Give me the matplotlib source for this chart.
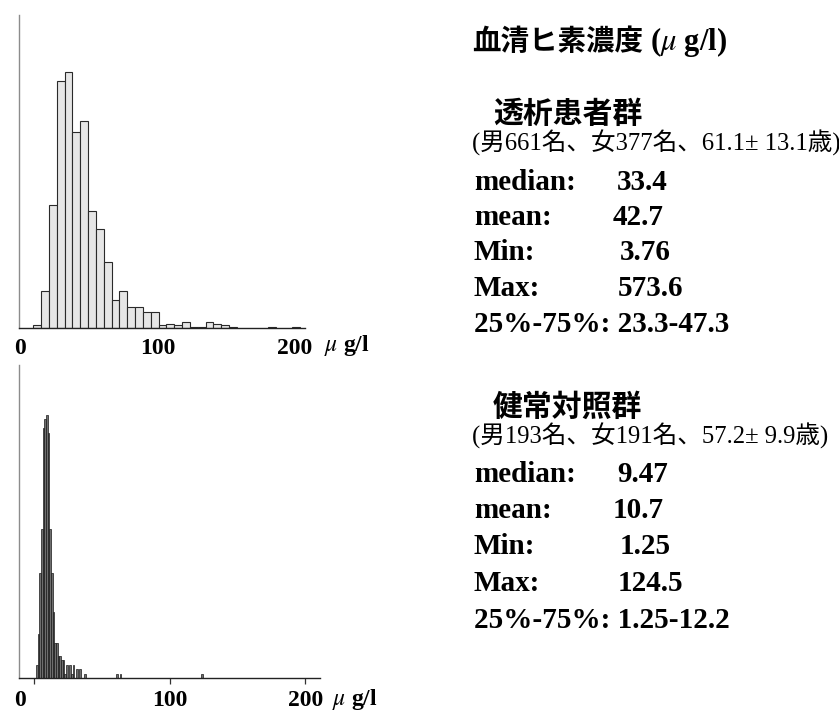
import numpy as np
import matplotlib
matplotlib.use("Agg")
import matplotlib.pyplot as plt
import matplotlib.transforms as mtransforms

plt.rcParams["mathtext.fontset"] = "stix"

# ---- histogram data: 100 equal-width bins between each group's min and max ----
dialysis_min = 3.76
dialysis_max = 573.6
dialysis_bin_index = [1, 2, 3, 4, 5, 6, 7, 8, 9, 10, 11, 12, 13, 14, 15, 16, 17,
                      18, 19, 20, 21, 22, 23, 24, 25, 26, 31, 34, 99]
dialysis_counts = [2, 25, 82, 165, 171, 131, 138, 78, 66, 44, 19, 25, 14, 14, 11, 11, 2,
                   3, 2, 4, 1, 1, 4, 3, 2, 1, 1, 1, 1]

control_min = 1.25
control_max = 124.5
control_bin_index = [0, 1, 2, 3, 4, 5, 6, 7, 8, 9, 10, 11, 12, 13, 14, 15, 16, 17,
                     18, 20, 21, 22, 24, 26, 29, 48, 50, 99]
control_counts = [3, 10, 24, 34, 57, 59, 60, 56, 34, 24, 15, 8, 8, 5, 5, 4, 4, 1,
                  3, 3, 1, 3, 2, 2, 1, 1, 1, 1]

tick_values = [0, 100, 200]
tick_labels = ["0", "100", "200"]
unit_label = r"$\mu$ g/l"

# ---- summary text ----
title_jp = "血清ヒ素濃度"
title_unit = r"($\mu$ g/l)"
stat_names = ["median:", "mean:", "Min:", "Max:"]

dialysis_name = "透析患者群"
dialysis_detail = "(男661名、女377名、61.1± 13.1歳)"
dialysis_stats = ["33.4", "42.7", "3.76", "573.6"]
dialysis_iqr = "23.3-47.3"

control_name = "健常対照群"
control_detail = "(男193名、女191名、57.2± 9.9歳)"
control_stats = ["9.47", "10.7", "1.25", "124.5"]
control_iqr = "1.25-12.2"

W, H = 839, 712
fig = plt.figure(figsize=(W / 100, H / 100), dpi=100)
fig.patch.set_facecolor("white")


def fx(x):
    return x / W


def fy(y):
    return 1 - y / H


SERIF = "Liberation Serif"
CJK = "Noto Sans CJK JP"


def histogram(ax, lo, hi, idx, counts, xlim, ymax, face, edge, lw, ticks_out):
    width = (hi - lo) / 100
    left = lo + width * np.asarray(idx, dtype=float)
    ax.bar(left, counts, width=width, align="edge", facecolor=face,
           edgecolor=edge, linewidth=lw)
    ax.set_xlim(*xlim)
    ax.set_ylim(0, ymax)
    for s in ("top", "right"):
        ax.spines[s].set_visible(False)
    ax.spines["left"].set_color("#8c8c8c")
    ax.spines["left"].set_linewidth(1.0)
    ax.spines["bottom"].set_color("#222222")
    ax.spines["bottom"].set_linewidth(1.0)
    ax.set_yticks([])
    ax.set_xticks(tick_values)
    ax.set_xticklabels(tick_labels, fontfamily=SERIF, fontweight="bold", fontsize=17)
    if ticks_out:
        ax.tick_params(axis="x", length=4, width=0.9, color="#333333", pad=5)
    else:
        ax.tick_params(axis="x", length=0, pad=7)


# top: dialysis patients
ax1 = fig.add_axes([fx(19), fy(328), (305 - 19) / W, (328 - 15) / H])
histogram(ax1, dialysis_min, dialysis_max, dialysis_bin_index, dialysis_counts,
          (-0.95, 207.2), 209, "#e6e6e6", "#2a2a2a", 0.8, False)

# bottom: healthy controls
ax2 = fig.add_axes([fx(19), fy(678), (320 - 19) / W, (678 - 365) / H])
histogram(ax2, control_min, control_max, control_bin_index, control_counts,
          (-11.3, 210.8), 71.4, "#6e6e6e", "#1a1a1a", 0.5, True)

# the "0" label of the lower axis sits left of its tick, under the y axis
zero_label = ax2.xaxis.get_major_ticks()[0].label1
zero_label.set_transform(zero_label.get_transform()
                         + mtransforms.ScaledTranslation(-0.14, 0, fig.dpi_scale_trans))

# unit labels beside the x axes
fig.text(fx(324), fy(345), unit_label, fontfamily=SERIF, fontweight="bold",
         fontsize=17, va="center", ha="left")
fig.text(fx(332), fy(699), unit_label, fontfamily=SERIF, fontweight="bold",
         fontsize=17, va="center", ha="left")

# title
fig.text(fx(472), fy(42), title_jp, fontfamily=CJK, fontweight="bold", fontsize=20.5,
         va="center", ha="left")
fig.text(fx(650), fy(42), title_unit, fontfamily=SERIF, fontweight="bold",
         fontsize=22, va="center", ha="left")


def summary(y0, row0, step, name, detail, stats, iqr):
    fig.text(fx(493), fy(y0), name, fontfamily=CJK, fontweight="bold", fontsize=21.5,
             va="center", ha="left")
    fig.text(fx(472), fy(y0 + 29), detail, fontfamily=[SERIF, CJK], fontsize=17.7,
             va="center", ha="left")
    value_x = [617, 613, 620, 618]
    for i, (label, val) in enumerate(zip(stat_names, stats)):
        yy = row0 + step * i
        fig.text(fx(474), fy(yy), label, fontfamily=SERIF, fontweight="bold",
                 fontsize=21, va="center", ha="left")
        fig.text(fx(value_x[i]), fy(yy), val, fontfamily=SERIF, fontweight="bold",
                 fontsize=21, va="center", ha="left")
    fig.text(fx(474), fy(row0 + step * 4), "25%-75%: " + iqr, fontfamily=SERIF,
             fontweight="bold", fontsize=21, va="center", ha="left")


summary(114, 182, 35.5, dialysis_name, dialysis_detail, dialysis_stats, dialysis_iqr)
summary(407, 474, 36.5, control_name, control_detail, control_stats, control_iqr)

fig.savefig("out.png", dpi=100, facecolor="white")
